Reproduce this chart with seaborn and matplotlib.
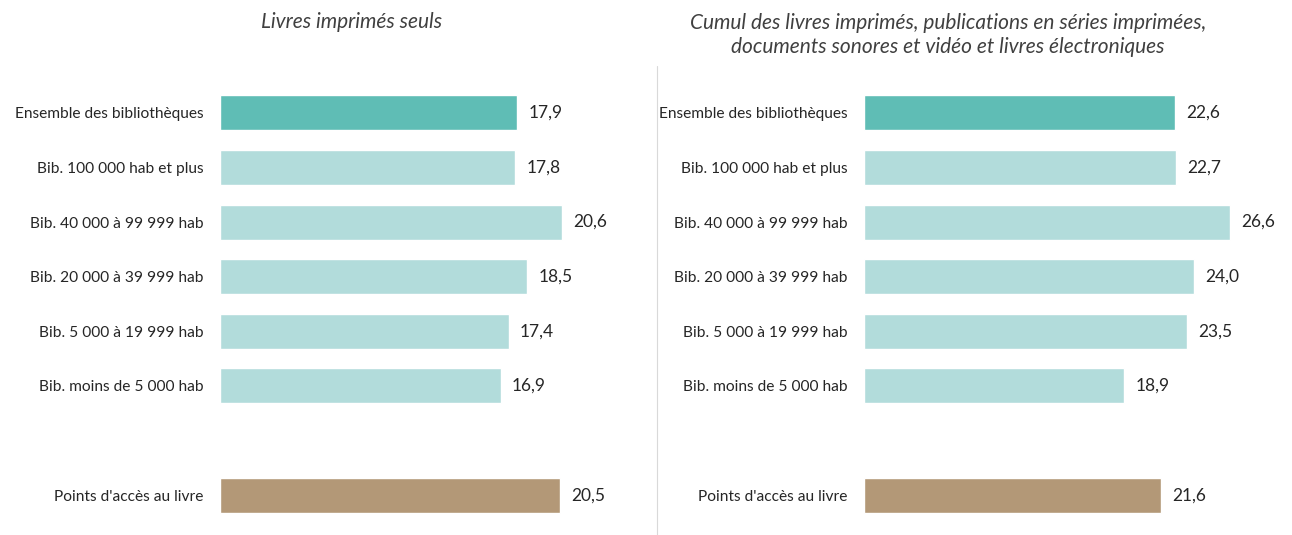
import matplotlib
matplotlib.use("Agg")
import matplotlib.pyplot as plt
import seaborn as sns
import pandas as pd

categories = [
    "Ensemble des bibliothèques",
    "Bib. 100 000 hab et plus",
    "Bib. 40 000 à 99 999 hab",
    "Bib. 20 000 à 39 999 hab",
    "Bib. 5 000 à 19 999 hab",
    "Bib. moins de 5 000 hab",
    "Points d'accès au livre",
]
livres_seuls = [17.9, 17.8, 20.6, 18.5, 17.4, 16.9, 20.5]
cumul_docs = [22.6, 22.7, 26.6, 24.0, 23.5, 18.9, 21.6]

title_left = "Livres imprimés seuls"
title_right = ("Cumul des livres imprimés, publications en séries imprimées,\n"
               "documents sonores et vidéo et livres électroniques")

TEAL = "#5fbdb5"
LIGHT = "#b2dcdb"
TAN = "#b39877"
palette = {c: LIGHT for c in categories}
palette[categories[0]] = TEAL
palette[categories[-1]] = TAN

# spacer slot between the library groups and the last bar
order = categories[:-1] + [""] + categories[-1:]

sns.set_theme(style="white")
plt.rcParams["font.family"] = ["Lato", "DejaVu Sans"]
TXT = "#262626"

fig = plt.figure(figsize=(12.92, 5.35), dpi=100)
W, H = 1292, 535


def draw_panel(left_px, width_px, values, xmax):
    ax = fig.add_axes([left_px / W, 1 - 528 / H, width_px / W, 448 / H])
    df = pd.DataFrame({"cat": categories, "val": values})
    sns.barplot(data=df, x="val", y="cat", hue="cat", order=order,
                palette=palette, width=0.64, legend=False, ax=ax,
                saturation=1, orient="h")
    ax.set_xlim(0, xmax)
    ax.set_ylim(7.6, -0.6)
    for c in ax.containers:
        ax.bar_label(c, fmt=lambda v: f"{v:.1f}".replace(".", ","),
                     padding=8, fontsize=12.5, color=TXT)
    ax.set_xlabel("")
    ax.set_ylabel("")
    ax.set_xticks([])
    ax.tick_params(axis="y", length=0, pad=12, labelsize=11.2, labelcolor=TXT)
    sns.despine(ax=ax, left=True, bottom=True)
    return ax


draw_panel(220, 380, livres_seuls, 380 / 16.6)
draw_panel(864, 396, cumul_docs, 396 / 13.76)

fig.text(352 / W, 1 - 22 / H, title_left, ha="center", va="center",
         fontsize=15, style="italic", color="#404040")
fig.text(948 / W, 1 - 35 / H, title_right, ha="center", va="center",
         multialignment="center", fontsize=15, style="italic",
         color="#404040", linespacing=1.2)

fig.add_artist(plt.Line2D([657 / W, 657 / W], [0, 1 - 66 / H],
                          color="#d9d9d9", lw=0.8))

fig.savefig("out.png", dpi=100, facecolor="white")
